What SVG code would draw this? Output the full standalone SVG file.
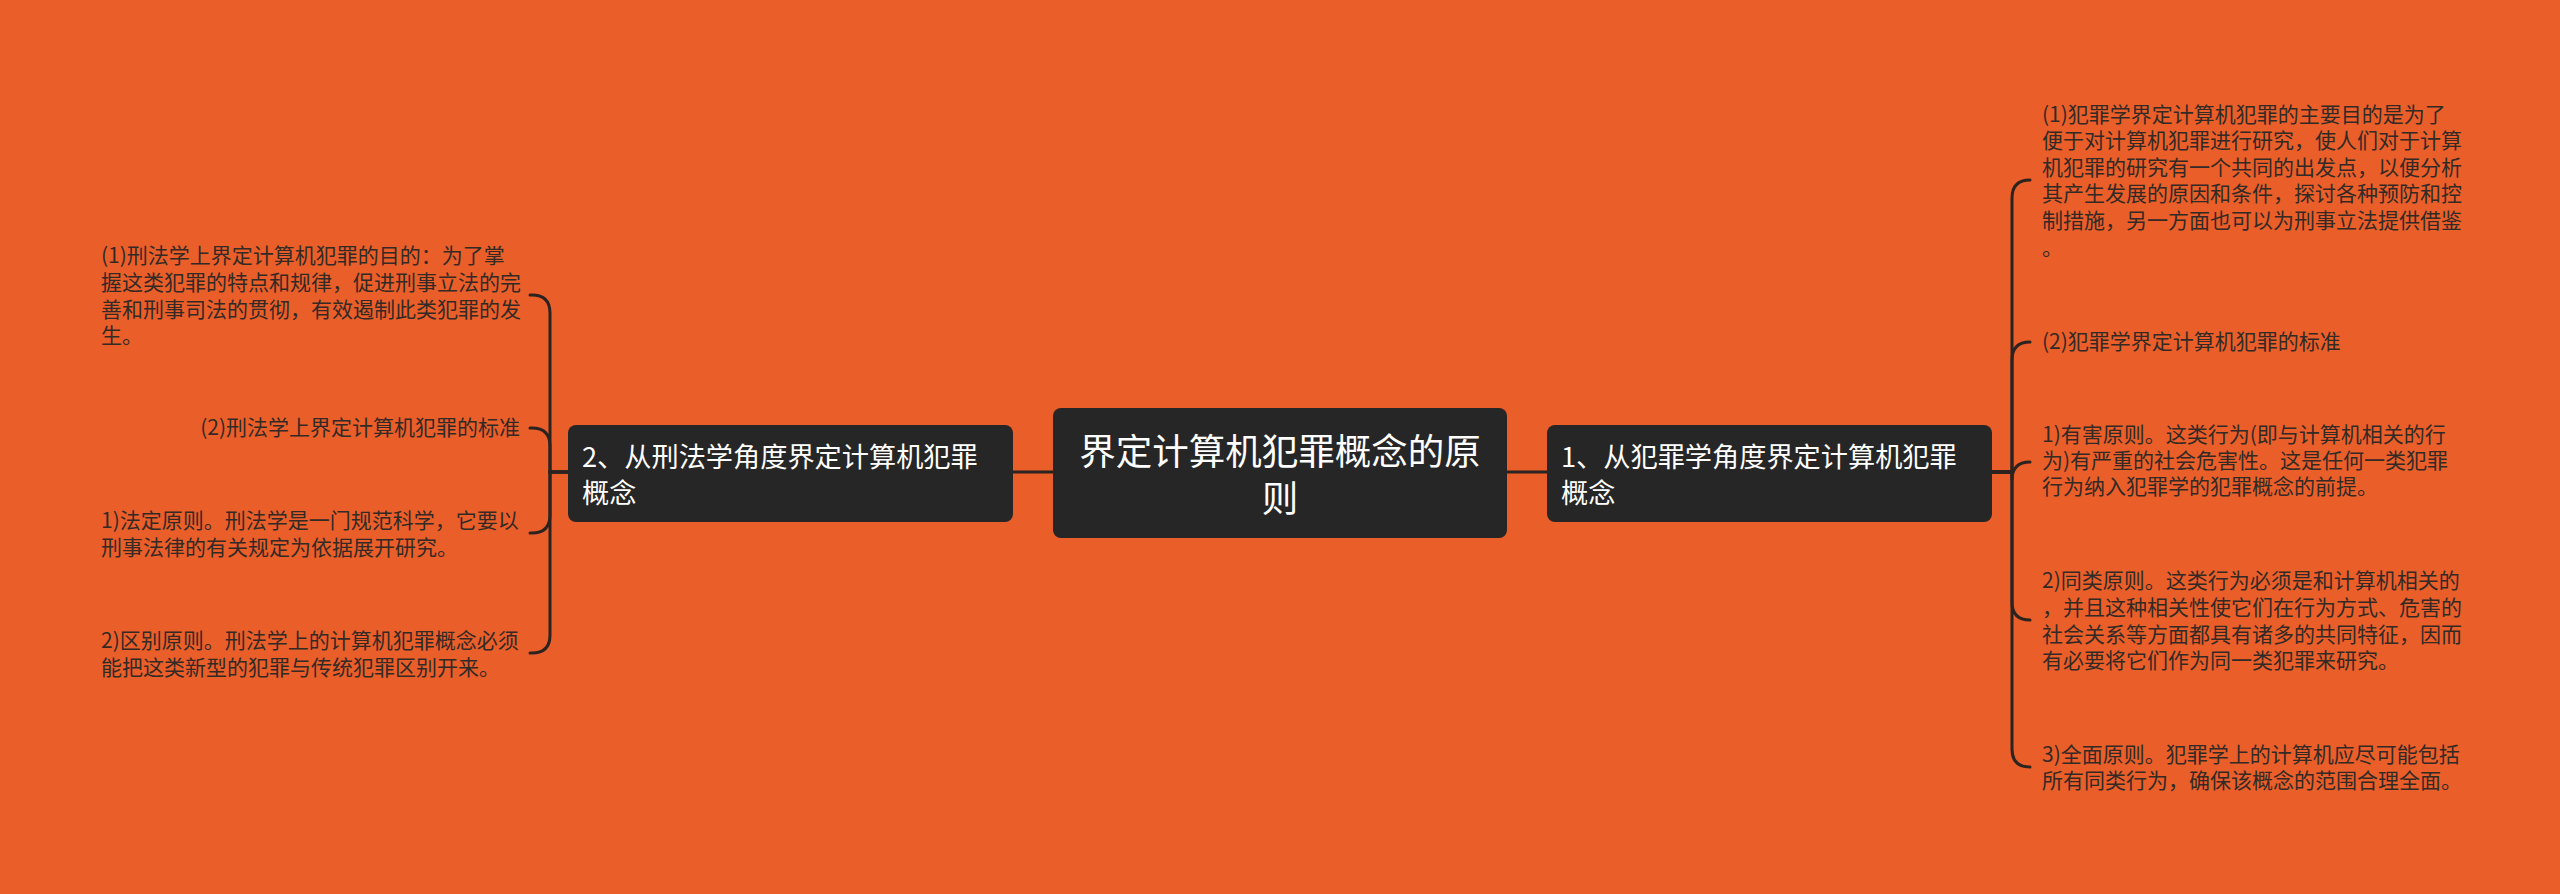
<svg xmlns="http://www.w3.org/2000/svg" width="2560" height="894" viewBox="0 0 2560 894">
<style>
.bg{fill:#EA5E29}
.node{fill:#262626}
.nt{fill:#ffffff;font-family:"Noto Sans CJK SC","Noto Sans",sans-serif}
.lt{fill:#332a26;font-family:"Noto Sans CJK SC","Noto Sans",sans-serif;font-size:21px}
.conn{fill:none;stroke:#2a2320;stroke-width:3;stroke-linecap:round}
</style>
<rect class="bg" x="0" y="0" width="2560" height="894"/>
<g id="connectors">
  <path class="conn" d="M1013 472 H1053"/>
  <path class="conn" d="M1507 472 H1547"/>
  <path class="conn" d="M568 472 H550 V313 Q550 295 532 295 H530"/>
  <path class="conn" d="M568 472 H550 V446 Q550 428 532 428 H530"/>
  <path class="conn" d="M568 472 H550 V515 Q550 533 532 533 H530"/>
  <path class="conn" d="M568 472 H550 V635 Q550 653 532 653 H530"/>
  <path class="conn" d="M1992 472 H2012 V198 Q2012 180 2030 180"/>
  <path class="conn" d="M1992 472 H2012 V360 Q2012 342 2030 342"/>
  <path class="conn" d="M1992 472 H2012 V480 Q2012 462 2030 462"/>
  <path class="conn" d="M1992 472 H2012 V602 Q2012 620 2030 620"/>
  <path class="conn" d="M1992 472 H2012 V749 Q2012 767 2030 767"/>
</g>
<g id="root">
  <rect class="node" x="1053" y="408" width="454" height="130" rx="8"/>
  <text class="nt" font-size="36.5" text-anchor="middle"><tspan x="1280" y="465">界定计算机犯罪概念的原</tspan><tspan x="1280" y="512">则</tspan></text>
</g>
<g id="n-left">
  <rect class="node" x="568" y="425" width="445" height="97" rx="8"/>
  <text class="nt" font-size="27.2"><tspan x="582" y="467">2、从刑法学角度界定计算机犯罪</tspan><tspan x="582" y="503">概念</tspan></text>
</g>
<g id="n-right">
  <rect class="node" x="1547" y="425" width="445" height="97" rx="8"/>
  <text class="nt" font-size="27.2"><tspan x="1561" y="467">1、从犯罪学角度界定计算机犯罪</tspan><tspan x="1561" y="503">概念</tspan></text>
</g>
<g id="l1">
  <text class="lt"><tspan x="101" y="263">(1)刑法学上界定计算机犯罪的目的：为了掌</tspan><tspan x="101" y="290">握这类犯罪的特点和规律，促进刑事立法的完</tspan><tspan x="101" y="317">善和刑事司法的贯彻，有效遏制此类犯罪的发</tspan><tspan x="101" y="343">生。</tspan></text>
</g>
<g id="l2">
  <text class="lt" text-anchor="end"><tspan x="520" y="435">(2)刑法学上界定计算机犯罪的标准</tspan></text>
</g>
<g id="l3">
  <text class="lt"><tspan x="101" y="528">1)法定原则。刑法学是一门规范科学，它要以</tspan><tspan x="101" y="555">刑事法律的有关规定为依据展开研究。</tspan></text>
</g>
<g id="l4">
  <text class="lt"><tspan x="101" y="648">2)区别原则。刑法学上的计算机犯罪概念必须</tspan><tspan x="101" y="675">能把这类新型的犯罪与传统犯罪区别开来。</tspan></text>
</g>
<g id="r1">
  <text class="lt"><tspan x="2042" y="122">(1)犯罪学界定计算机犯罪的主要目的是为了</tspan><tspan x="2042" y="148">便于对计算机犯罪进行研究，使人们对于计算</tspan><tspan x="2042" y="175">机犯罪的研究有一个共同的出发点，以便分析</tspan><tspan x="2042" y="201">其产生发展的原因和条件，探讨各种预防和控</tspan><tspan x="2042" y="228">制措施，另一方面也可以为刑事立法提供借鉴</tspan><tspan x="2042" y="255">。</tspan></text>
</g>
<g id="r2">
  <text class="lt"><tspan x="2042" y="349">(2)犯罪学界定计算机犯罪的标准</tspan></text>
</g>
<g id="r3">
  <text class="lt"><tspan x="2042" y="442">1)有害原则。这类行为(即与计算机相关的行</tspan><tspan x="2042" y="468">为)有严重的社会危害性。这是任何一类犯罪</tspan><tspan x="2042" y="494">行为纳入犯罪学的犯罪概念的前提。</tspan></text>
</g>
<g id="r4">
  <text class="lt"><tspan x="2042" y="588">2)同类原则。这类行为必须是和计算机相关的</tspan><tspan x="2042" y="615">，并且这种相关性使它们在行为方式、危害的</tspan><tspan x="2042" y="642">社会关系等方面都具有诸多的共同特征，因而</tspan><tspan x="2042" y="668">有必要将它们作为同一类犯罪来研究。</tspan></text>
</g>
<g id="r5">
  <text class="lt"><tspan x="2042" y="762">3)全面原则。犯罪学上的计算机应尽可能包括</tspan><tspan x="2042" y="788">所有同类行为，确保该概念的范围合理全面。</tspan></text>
</g>
</svg>
